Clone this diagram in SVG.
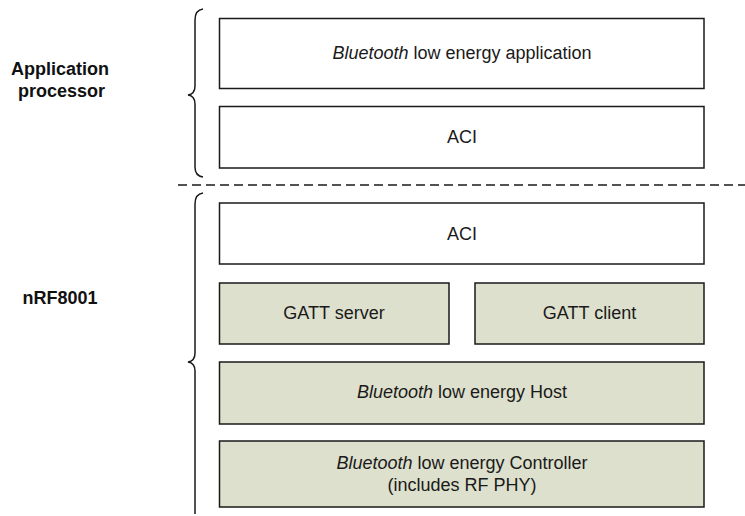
<svg xmlns="http://www.w3.org/2000/svg" width="745" height="516" viewBox="0 0 745 516">
<style>
.box{stroke:#1a1a1a;stroke-width:1.5}
.w{fill:#ffffff}
.g{fill:#dde0cc}
.t{font-family:"Liberation Sans",Arial,sans-serif;font-size:18px;fill:#1a1a1a;text-anchor:middle}
.lbl{font-family:"Liberation Sans",Arial,sans-serif;font-size:18px;font-weight:bold;fill:#111;text-anchor:middle}
.br{fill:none;stroke:#1a1a1a;stroke-width:1.5}
</style>
<rect width="745" height="516" fill="#fff"/>
<g id="label-app">
<text class="lbl" x="60" y="75">Application</text>
<text class="lbl" x="61.5" y="97">processor</text>
</g>
<g id="label-nrf">
<text class="lbl" x="60" y="304">nRF8001</text>
</g>
<g id="braces">
<path class="br" d="M203,9 Q195,10 195,20 L195,86 Q195,94 188,95 Q195,96 195,104 L195,167 Q195,176 203,177"/>
<path class="br" d="M203,193 Q195,194 195,204 L195,353 Q195,361 188,362 Q195,363 195,371 L195,514"/>
</g>
<g id="divider">
<line x1="178" y1="185" x2="745" y2="185" stroke="#1a1a1a" stroke-width="1.5" stroke-dasharray="9,5"/>
</g>
<g id="app">
<rect class="box w" x="219.5" y="18.5" width="484.5" height="70"/>
<text class="t" x="462" y="59"><tspan font-style="italic">Bluetooth</tspan> low energy application</text>
</g>
<g id="aci-top">
<rect class="box w" x="219.5" y="106.5" width="484.5" height="61.5"/>
<text class="t" x="462" y="143">ACI</text>
</g>
<g id="aci-bottom">
<rect class="box w" x="219.5" y="203" width="484.5" height="61"/>
<text class="t" x="462" y="240">ACI</text>
</g>
<g id="gatt-server">
<rect class="box g" x="219.5" y="283" width="229.5" height="61"/>
<text class="t" x="334" y="319">GATT server</text>
</g>
<g id="gatt-client">
<rect class="box g" x="475" y="283" width="229" height="61"/>
<text class="t" x="589.5" y="319">GATT client</text>
</g>
<g id="host">
<rect class="box g" x="219.5" y="362" width="484.5" height="62"/>
<text class="t" x="462" y="398"><tspan font-style="italic">Bluetooth</tspan> low energy Host</text>
</g>
<g id="controller">
<rect class="box g" x="219.5" y="441" width="484.5" height="66"/>
<text class="t" x="462" y="469"><tspan font-style="italic">Bluetooth</tspan> low energy Controller</text>
<text class="t" x="462" y="491">(includes RF PHY)</text>
</g>
</svg>
